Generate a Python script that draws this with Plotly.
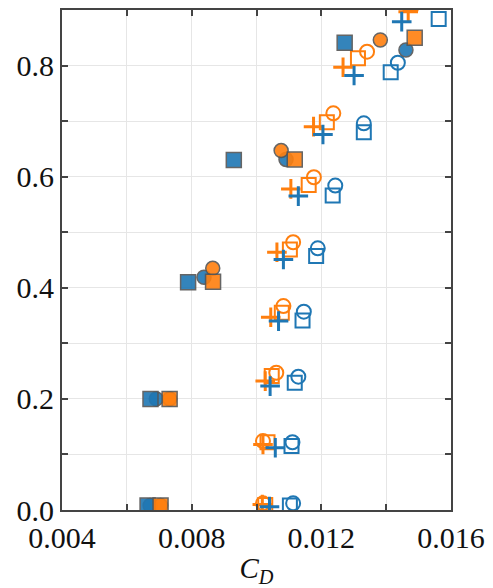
import plotly.graph_objects as go

BLUE = "#1f77b4"
ORANGE = "#ff7f0e"
SERIF = "Liberation Serif, Times New Roman, serif"

# Filled markers
blue_sq_f_x = [0.00664, 0.00673, 0.00789, 0.00930, 0.01272]
blue_sq_f_y = [0.008, 0.200, 0.410, 0.630, 0.841]
blue_ci_f_x = [0.00672, 0.00691, 0.00838, 0.01091, 0.01461]
blue_ci_f_y = [0.008, 0.200, 0.419, 0.631, 0.828]
orange_ci_f_x = [0.00704, 0.00732, 0.00865, 0.01076, 0.01382]
orange_ci_f_y = [0.008, 0.200, 0.435, 0.647, 0.846]
orange_sq_f_x = [0.00704, 0.00732, 0.00866, 0.01118, 0.01488]
orange_sq_f_y = [0.008, 0.200, 0.411, 0.631, 0.850]

# Open markers
blue_sq_o_x = [0.01103, 0.01108, 0.01118, 0.01142, 0.01184, 0.01235, 0.01331, 0.01414, 0.01562]
blue_sq_o_y = [0.008, 0.115, 0.229, 0.341, 0.457, 0.566, 0.680, 0.788, 0.884]
blue_ci_o_x = [0.01113, 0.01111, 0.01129, 0.01146, 0.01189, 0.01243, 0.01331, 0.01436, 0.01580]
blue_ci_o_y = [0.012, 0.122, 0.240, 0.357, 0.471, 0.584, 0.696, 0.805, 0.920]
orange_sq_o_x = [0.01027, 0.01034, 0.01047, 0.01078, 0.01103, 0.01161, 0.01217, 0.01313, 0.01475]
orange_sq_o_y = [0.009, 0.122, 0.241, 0.355, 0.469, 0.585, 0.698, 0.813, 0.912]
orange_ci_o_x = [0.01020, 0.01020, 0.01061, 0.01083, 0.01113, 0.01177, 0.01237, 0.01341, 0.01485]
orange_ci_o_y = [0.012, 0.124, 0.247, 0.367, 0.482, 0.599, 0.714, 0.825, 0.927]
blue_plus_x = [0.01040, 0.01058, 0.01042, 0.01068, 0.01083, 0.01129, 0.01205, 0.01301, 0.01448]
blue_plus_y = [0.006, 0.112, 0.223, 0.340, 0.451, 0.565, 0.676, 0.782, 0.879]
orange_plus_x = [0.01018, 0.01020, 0.01027, 0.01044, 0.01063, 0.01106, 0.01176, 0.01267, 0.01468]
orange_plus_y = [0.010, 0.118, 0.232, 0.347, 0.464, 0.578, 0.690, 0.797, 0.897]

x_tickvals = [0.004, 0.006, 0.008, 0.010, 0.012, 0.014, 0.016]
x_ticktext = ["0.004", "", "0.008", "", "0.012", "", "0.016"]
y_tickvals = [0.0, 0.1, 0.2, 0.3, 0.4, 0.5, 0.6, 0.7, 0.8, 0.9]
y_ticktext = ["0.0", "", "0.2", "", "0.4", "", "0.6", "", "0.8", ""]

fig = go.Figure()

def add(x, y, symbol, color, size, filled):
    if filled:
        marker = dict(symbol=symbol, color=color, size=size, opacity=0.9,
                      line=dict(color="#555555", width=1.5))
    else:
        marker = dict(symbol=symbol, color=color, size=size,
                      line=dict(color=color, width=2))
    fig.add_trace(go.Scatter(x=x, y=y, mode="markers", marker=marker,
                             showlegend=False, cliponaxis=True))

add(blue_sq_o_x, blue_sq_o_y, "square-open", BLUE, 14, False)
add(blue_ci_o_x, blue_ci_o_y, "circle-open", BLUE, 14, False)
add(orange_sq_o_x, orange_sq_o_y, "square-open", ORANGE, 14, False)
add(orange_ci_o_x, orange_ci_o_y, "circle-open", ORANGE, 14, False)
fig.add_trace(go.Scatter(x=orange_plus_x, y=orange_plus_y, mode="markers", showlegend=False,
                         marker=dict(symbol="cross-thin", size=14, line=dict(color=ORANGE, width=3))))
fig.add_trace(go.Scatter(x=blue_plus_x, y=blue_plus_y, mode="markers", showlegend=False,
                         marker=dict(symbol="cross-thin", size=14, line=dict(color=BLUE, width=3))))
add(blue_ci_f_x, blue_ci_f_y, "circle", BLUE, 14, True)
add(orange_ci_f_x, orange_ci_f_y, "circle", ORANGE, 14, True)
add(blue_sq_f_x, blue_sq_f_y, "square", BLUE, 15, True)
add(orange_sq_f_x, orange_sq_f_y, "square", ORANGE, 15, True)

axis_common = dict(showline=True, mirror="ticks", linecolor="#444444", linewidth=2,
                   ticks="inside", ticklen=6, tickwidth=2, tickcolor="#444444",
                   showgrid=True, gridcolor="#e6e6e6", gridwidth=1, zeroline=False,
                   tickfont=dict(family=SERIF, size=30, color="#111111"))

fig.update_layout(
    width=493, height=588,
    margin=dict(l=62, r=36, t=8, b=73),
    paper_bgcolor="white", plot_bgcolor="white",
    font=dict(family=SERIF, size=30, color="#111111"),
    xaxis=dict(range=[0.004, 0.016], tickmode="array", tickvals=x_tickvals, ticktext=x_ticktext,
               title=dict(text="<i>C</i><sub><i>D</i></sub>", standoff=6,
                          font=dict(family=SERIF, size=29, color="#111111")),
               **axis_common),
    yaxis=dict(range=[0.0, 0.9], tickmode="array", tickvals=y_tickvals, ticktext=y_ticktext,
               **axis_common),
)

fig.write_html("out.html")
